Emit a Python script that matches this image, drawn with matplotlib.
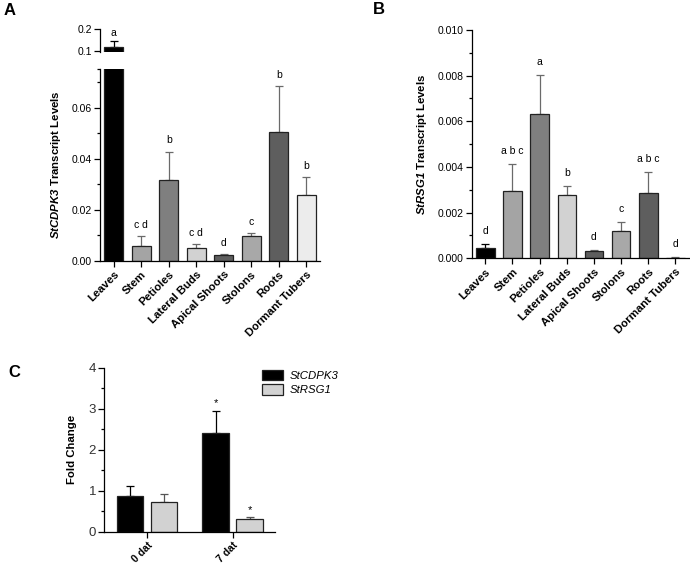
import numpy as np
import matplotlib.pyplot as plt
from matplotlib.patches import Patch
from matplotlib.ticker import MultipleLocator

plt.rcParams['font.family'] = ['Liberation Sans', 'DejaVu Sans']
plt.rcParams['mathtext.fontset'] = 'custom'
plt.rcParams['mathtext.rm'] = 'Liberation Sans'
plt.rcParams['mathtext.it'] = 'Liberation Sans:italic'
plt.rcParams['mathtext.bf'] = 'Liberation Sans:bold'
plt.rcParams['mathtext.bfit'] = 'Liberation Sans:italic:bold'

# tissues shared by panels A and B
tissues = ['Leaves', 'Stem', 'Petioles', 'Lateral Buds', 'Apical Shoots',
           'Stolons', 'Roots', 'Dormant Tubers']
tissue_colors = ['#000000', '#a4a4a4', '#7f7f7f', '#d2d2d2', '#5e5e5e',
                 '#a8a8a8', '#5e5e5e', '#ececec']

# panel A: StCDPK3
cdpk3_vals = [0.120, 0.0058, 0.0316, 0.0049, 0.0023, 0.0098, 0.0503, 0.0259]
cdpk3_err = [0.026, 0.0039, 0.0111, 0.0015, 0.0002, 0.0009, 0.0182, 0.0069]
cdpk3_letters = ['a', 'c d', 'b', 'c d', 'd', 'c', 'b', 'b']

# panel B: StRSG1
rsg1_vals = [0.00045, 0.00295, 0.0063, 0.00277, 0.00033, 0.0012, 0.00285, 0.00003]
rsg1_err = [0.00018, 0.00119, 0.00172, 0.00041, 0.00003, 0.0004, 0.00095, 0.00002]
rsg1_letters = ['d', 'a b c', 'a', 'b', 'd', 'c', 'a b c', 'd']

# panel C: fold change
days = ['0 dat', '7 dat']
fc_cdpk3 = [0.87, 2.41]
fc_cdpk3_err = [0.24, 0.54]
fc_rsg1 = [0.71, 0.315]
fc_rsg1_err = [0.20, 0.04]
fc_marks = [['', '*'], ['', '*']]

fig = plt.figure(figsize=(6.9, 5.64), dpi=100)


def style_axis(ax):
    ax.spines['top'].set_visible(False)
    ax.spines['right'].set_visible(False)
    ax.tick_params(direction='out', length=4, width=0.9, labelsize=7.5, pad=2)
    ax.tick_params(which='minor', direction='out', length=2.5, width=0.9)
    for s in ('left', 'bottom'):
        ax.spines[s].set_linewidth(0.9)


def draw_bars(ax, vals, errs):
    x = np.arange(len(vals))
    ax.bar(x, vals, width=0.68, color=tissue_colors, edgecolor='#222222',
           linewidth=0.9, zorder=2)
    for i in range(len(vals)):
        ecol = '#000000' if i == 0 else '#6a6a6a'
        ax.errorbar(x[i], vals[i], yerr=[[0], [errs[i]]], fmt='none',
                    ecolor=ecol, elinewidth=0.9, capsize=3, capthick=0.9, zorder=1)
    return x


# ---- panel A ----
axA = fig.add_axes([0.1449, 0.5378, 0.3188, 0.3393])
axA_top = fig.add_axes([0.1449, 0.9078, 0.3188, 0.0408])
x = draw_bars(axA, cdpk3_vals, cdpk3_err)
draw_bars(axA_top, cdpk3_vals, cdpk3_err)
for a in (axA, axA_top):
    style_axis(a)
    a.set_xlim(-0.5, 7.5)
axA.set_ylim(0, 0.075)
axA.set_yticks([0, 0.02, 0.04, 0.06])
axA.set_yticklabels(['0.00', '0.02', '0.04', '0.06'])
axA.set_yticks([0.01, 0.03, 0.05, 0.07, 0.075], minor=True)
axA.set_xticks(x)
axA.set_xticklabels(tissues, rotation=45, ha='right', va='top',
                    rotation_mode='anchor', fontweight='bold', fontsize=8.2)
axA.set_ylabel(r'$\mathbfit{StCDPK3}$ Transcript Levels', fontweight='bold',
               fontsize=8.2, labelpad=6)
axA_top.set_ylim(0.095, 0.2)
axA_top.set_yticks([0.1, 0.2])
axA_top.set_yticklabels(['0.1', '0.2'])
axA_top.spines['bottom'].set_visible(False)
axA_top.set_xticks([])
for i in x:
    top = cdpk3_vals[i] + cdpk3_err[i]
    if i == 0:
        axA_top.text(i, top + 0.012, cdpk3_letters[i], ha='center', va='bottom', fontsize=7.5)
    else:
        axA.text(i, top + 0.0025, cdpk3_letters[i], ha='center', va='bottom', fontsize=7.5)

# ---- panel B ----
axB = fig.add_axes([0.6836, 0.542, 0.315, 0.4048])
x = draw_bars(axB, rsg1_vals, rsg1_err)
style_axis(axB)
axB.set_xlim(-0.5, 7.5)
axB.set_ylim(0, 0.010)
axB.set_yticks([0, 0.002, 0.004, 0.006, 0.008, 0.010])
axB.set_yticklabels(['0.000', '0.002', '0.004', '0.006', '0.008', '0.010'])
axB.yaxis.set_minor_locator(MultipleLocator(0.001))
axB.set_xticks(x)
axB.set_xticklabels(tissues, rotation=45, ha='right', va='top',
                    rotation_mode='anchor', fontweight='bold', fontsize=8.2)
axB.set_ylabel(r'$\mathbfit{StRSG1}$ Transcript Levels', fontweight='bold',
               fontsize=8.2, labelpad=6)
for i in x:
    top = rsg1_vals[i] + rsg1_err[i]
    axB.text(i, top + 0.00035, rsg1_letters[i], ha='center', va='bottom', fontsize=7.5)

# ---- panel C ----
axC = fig.add_axes([0.1512, 0.0575, 0.2479, 0.2909])
style_axis(axC)
xc = np.arange(len(days))
w = 0.31
axC.bar(xc - 0.2, fc_cdpk3, width=w, color='#000000', edgecolor='#222222',
        linewidth=0.9, zorder=2)
axC.bar(xc + 0.2, fc_rsg1, width=w, color='#d2d2d2', edgecolor='#222222',
        linewidth=0.9, zorder=2)
axC.errorbar(xc - 0.2, fc_cdpk3, yerr=[np.zeros(2), fc_cdpk3_err], fmt='none',
             ecolor='#000000', elinewidth=0.9, capsize=3, capthick=0.9, zorder=1)
axC.errorbar(xc + 0.2, fc_rsg1, yerr=[np.zeros(2), fc_rsg1_err], fmt='none',
             ecolor='#555555', elinewidth=0.9, capsize=3, capthick=0.9, zorder=1)
for j in range(len(days)):
    if fc_marks[0][j]:
        axC.text(xc[j] - 0.2, fc_cdpk3[j] + fc_cdpk3_err[j] + 0.05, fc_marks[0][j],
                 ha='center', va='bottom', fontsize=8)
    if fc_marks[1][j]:
        axC.text(xc[j] + 0.2, fc_rsg1[j] + fc_rsg1_err[j] + 0.05, fc_marks[1][j],
                 ha='center', va='bottom', fontsize=8)
axC.set_xlim(-0.5, 1.5)
axC.set_ylim(0, 4)
axC.set_yticks([0, 1, 2, 3, 4])
axC.yaxis.set_minor_locator(MultipleLocator(0.5))
axC.tick_params(axis='y', labelsize=9.5, labelcolor='#333333')
axC.set_xticks(xc)
axC.set_xticklabels(days, rotation=45, ha='right', va='top',
                    rotation_mode='anchor', fontweight='bold', fontsize=7.5)
axC.set_ylabel('Fold Change', fontweight='bold', fontsize=8.2, labelpad=8)
handles = [Patch(facecolor='#000000', edgecolor='#222222', linewidth=0.9),
           Patch(facecolor='#d2d2d2', edgecolor='#222222', linewidth=0.9)]
fig.legend(handles, ['StCDPK3', 'StRSG1'], loc='upper left',
           bbox_to_anchor=(0.365, 0.362), frameon=False,
           prop={'style': 'italic', 'size': 8.2}, handlelength=1.8,
           handleheight=1.0, labelspacing=0.3, handletextpad=0.6)

# panel letters
fig.text(0.005, 0.995, 'A', fontsize=12, fontweight='bold', va='top')
fig.text(0.54, 0.997, 'B', fontsize=12, fontweight='bold', va='top')
fig.text(0.012, 0.352, 'C', fontsize=12, fontweight='bold', va='top')

fig.savefig('out.png', dpi=100)
